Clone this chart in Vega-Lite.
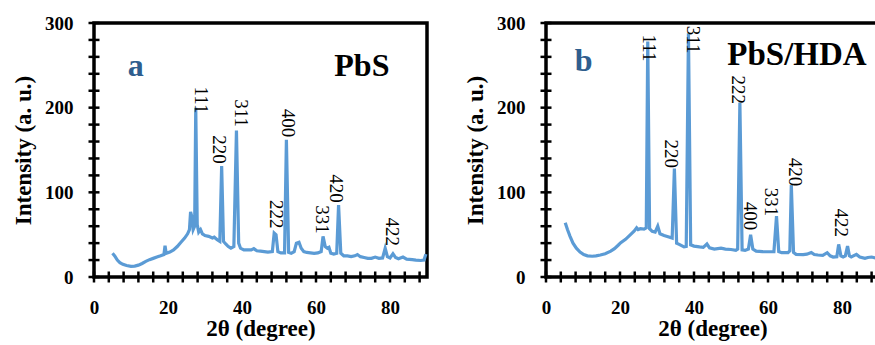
{
  "$schema": "https://vega.github.io/schema/vega-lite/v6.json",
  "padding": {"left": 10, "top": 12, "right": 0, "bottom": 0},
  "background": "white",
  "spacing": 27,
  "config": {
    "view": {"stroke": "#000000", "strokeWidth": 3.5},
    "axis": {
      "grid": false,
      "domain": false,
      "ticks": false,
      "labelFont": "Liberation Serif",
      "labelFontWeight": "bold",
      "labelFontSize": 19,
      "labelColor": "#000000",
      "labelOverlap": false,
      "labelBound": false,
      "labelFlush": false,
      "titleFont": "Liberation Serif",
      "titleFontWeight": "bold",
      "titleColor": "#000000"
    },
    "axisX": {"labelPadding": 21, "titleFontSize": 23, "titlePadding": 0},
    "axisY": {"labelPadding": 21, "titleFontSize": 23, "titlePadding": 9}
  },
  "datasets": {
    "xrd_a": [
      {"x": 5.0, "y": 28}, {"x": 5.6, "y": 25}, {"x": 6.3, "y": 20}, {"x": 7.0, "y": 17}, {"x": 7.8, "y": 15},
      {"x": 8.8, "y": 13.5}, {"x": 10, "y": 12.5}, {"x": 11, "y": 12.8}, {"x": 12, "y": 14}, {"x": 13, "y": 16},
      {"x": 14, "y": 18.5}, {"x": 15, "y": 20.5}, {"x": 16, "y": 22}, {"x": 17, "y": 23.5}, {"x": 18, "y": 25},
      {"x": 18.9, "y": 26.5}, {"x": 19.2, "y": 37}, {"x": 19.5, "y": 28}, {"x": 20.5, "y": 29.5}, {"x": 21.5, "y": 32},
      {"x": 22.5, "y": 36}, {"x": 23.5, "y": 41}, {"x": 24.5, "y": 46}, {"x": 25.3, "y": 51}, {"x": 25.8, "y": 56},
      {"x": 26.1, "y": 77}, {"x": 26.4, "y": 72}, {"x": 26.8, "y": 56}, {"x": 27.2, "y": 60}, {"x": 27.5, "y": 200},
      {"x": 27.9, "y": 62}, {"x": 28.3, "y": 53}, {"x": 28.8, "y": 56}, {"x": 29.3, "y": 51}, {"x": 30, "y": 49},
      {"x": 31, "y": 48}, {"x": 32, "y": 46}, {"x": 32.5, "y": 47}, {"x": 33.3, "y": 44}, {"x": 34.0, "y": 42},
      {"x": 34.5, "y": 131}, {"x": 35.0, "y": 42}, {"x": 35.6, "y": 39}, {"x": 36.3, "y": 36}, {"x": 37, "y": 34},
      {"x": 37.8, "y": 36}, {"x": 38.5, "y": 173}, {"x": 39.1, "y": 40}, {"x": 39.6, "y": 34}, {"x": 40.5, "y": 32},
      {"x": 41.5, "y": 32}, {"x": 42.5, "y": 32}, {"x": 43.2, "y": 33.5}, {"x": 44, "y": 31}, {"x": 45, "y": 30.5},
      {"x": 46, "y": 30}, {"x": 47, "y": 29.5}, {"x": 48.2, "y": 30}, {"x": 48.7, "y": 52}, {"x": 49.2, "y": 50},
      {"x": 49.7, "y": 30}, {"x": 50.5, "y": 28.5}, {"x": 51.5, "y": 28.5}, {"x": 52.0, "y": 162}, {"x": 52.6, "y": 29},
      {"x": 53.3, "y": 28}, {"x": 54.1, "y": 30}, {"x": 54.7, "y": 40}, {"x": 55.4, "y": 41}, {"x": 56.0, "y": 34},
      {"x": 56.7, "y": 30}, {"x": 57.5, "y": 29}, {"x": 58.5, "y": 28.5}, {"x": 59.5, "y": 28}, {"x": 60.5, "y": 28.5},
      {"x": 61.4, "y": 30}, {"x": 61.9, "y": 48}, {"x": 62.5, "y": 36}, {"x": 63.1, "y": 34}, {"x": 63.5, "y": 35},
      {"x": 64.0, "y": 28}, {"x": 64.8, "y": 27}, {"x": 65.6, "y": 28}, {"x": 66.1, "y": 85}, {"x": 66.7, "y": 28},
      {"x": 67.5, "y": 25}, {"x": 68.5, "y": 25}, {"x": 69.5, "y": 24}, {"x": 70.5, "y": 25}, {"x": 71.2, "y": 26.5},
      {"x": 72, "y": 24}, {"x": 73, "y": 23}, {"x": 74, "y": 22}, {"x": 75, "y": 22}, {"x": 76, "y": 23.5},
      {"x": 77, "y": 22}, {"x": 78, "y": 22.5}, {"x": 78.7, "y": 34}, {"x": 79.3, "y": 24}, {"x": 80, "y": 22.5},
      {"x": 80.8, "y": 27.5}, {"x": 81.5, "y": 23}, {"x": 82.3, "y": 21.5}, {"x": 83.5, "y": 23.5}, {"x": 84.5, "y": 21},
      {"x": 86, "y": 20.5}, {"x": 87, "y": 20}, {"x": 88.3, "y": 19.5}, {"x": 89.2, "y": 20}, {"x": 89.7, "y": 27}
    ],
    "xrd_b": [
      {"x": 5.2, "y": 64}, {"x": 5.8, "y": 56}, {"x": 6.5, "y": 48}, {"x": 7.3, "y": 40}, {"x": 8.2, "y": 34},
      {"x": 9.2, "y": 29.5}, {"x": 10.2, "y": 26.5}, {"x": 11.2, "y": 25}, {"x": 12.5, "y": 24.5}, {"x": 13.5, "y": 25},
      {"x": 14.7, "y": 26}, {"x": 16, "y": 27.5}, {"x": 17.5, "y": 30.5}, {"x": 18.5, "y": 33.5}, {"x": 19.5, "y": 37.5},
      {"x": 20.2, "y": 40.5}, {"x": 21.5, "y": 44.5}, {"x": 22.9, "y": 50.3}, {"x": 23.8, "y": 54}, {"x": 24.5, "y": 58},
      {"x": 24.9, "y": 56}, {"x": 25.5, "y": 57}, {"x": 26.5, "y": 56.5}, {"x": 27.1, "y": 58}, {"x": 27.5, "y": 278},
      {"x": 28, "y": 57}, {"x": 28.7, "y": 54}, {"x": 29.5, "y": 53}, {"x": 30.2, "y": 60}, {"x": 30.8, "y": 51},
      {"x": 31.9, "y": 49}, {"x": 33, "y": 47.5}, {"x": 34.1, "y": 46}, {"x": 34.7, "y": 128}, {"x": 35.3, "y": 40},
      {"x": 36, "y": 38.5}, {"x": 37.3, "y": 35.5}, {"x": 37.9, "y": 36}, {"x": 38.5, "y": 288}, {"x": 39.1, "y": 38},
      {"x": 40, "y": 36.5}, {"x": 41.5, "y": 35.5}, {"x": 42.5, "y": 35}, {"x": 43.5, "y": 39}, {"x": 44.2, "y": 34.5},
      {"x": 45.5, "y": 33}, {"x": 47.3, "y": 34}, {"x": 48.5, "y": 33}, {"x": 50, "y": 32.5}, {"x": 51.3, "y": 31.5},
      {"x": 51.8, "y": 33}, {"x": 52.4, "y": 206}, {"x": 53, "y": 32}, {"x": 53.8, "y": 31.4}, {"x": 54.7, "y": 33},
      {"x": 55.3, "y": 50}, {"x": 55.9, "y": 33}, {"x": 56.8, "y": 30.5}, {"x": 58.5, "y": 30}, {"x": 59.9, "y": 29.8},
      {"x": 61.6, "y": 30}, {"x": 62.3, "y": 72}, {"x": 62.9, "y": 30}, {"x": 63.7, "y": 28.7}, {"x": 65.4, "y": 28.7},
      {"x": 65.9, "y": 31}, {"x": 66.3, "y": 109}, {"x": 66.9, "y": 29}, {"x": 67.6, "y": 26.7}, {"x": 69.5, "y": 26.5},
      {"x": 70.5, "y": 27}, {"x": 71.7, "y": 29}, {"x": 72.5, "y": 26.5}, {"x": 73.5, "y": 26}, {"x": 74.8, "y": 25.5},
      {"x": 76, "y": 28.7}, {"x": 76.8, "y": 25}, {"x": 77.6, "y": 23.6}, {"x": 78.6, "y": 24}, {"x": 79.1, "y": 38.5},
      {"x": 79.7, "y": 25}, {"x": 80.3, "y": 23.6}, {"x": 80.9, "y": 25}, {"x": 81.5, "y": 36.5}, {"x": 82.0, "y": 25},
      {"x": 82.5, "y": 23.6}, {"x": 83.9, "y": 26.7}, {"x": 84.8, "y": 23.5}, {"x": 86.2, "y": 22}, {"x": 87, "y": 23},
      {"x": 88, "y": 23.6}, {"x": 89, "y": 22.5}, {"x": 90, "y": 22}
    ],
    "xticks": [
      {"x": 0, "y": 0}, {"x": 4, "y": 0}, {"x": 8, "y": 0}, {"x": 12, "y": 0}, {"x": 16, "y": 0}, {"x": 20, "y": 0},
      {"x": 24, "y": 0}, {"x": 28, "y": 0}, {"x": 32, "y": 0}, {"x": 36, "y": 0}, {"x": 40, "y": 0}, {"x": 44, "y": 0},
      {"x": 48, "y": 0}, {"x": 52, "y": 0}, {"x": 56, "y": 0}, {"x": 60, "y": 0}, {"x": 64, "y": 0}, {"x": 68, "y": 0},
      {"x": 72, "y": 0}, {"x": 76, "y": 0}, {"x": 80, "y": 0}, {"x": 84, "y": 0}, {"x": 88, "y": 0}
    ],
    "yticks": [
      {"x": 0, "y": 0}, {"x": 0, "y": 20}, {"x": 0, "y": 40}, {"x": 0, "y": 60}, {"x": 0, "y": 80}, {"x": 0, "y": 100},
      {"x": 0, "y": 120}, {"x": 0, "y": 140}, {"x": 0, "y": 160}, {"x": 0, "y": 180}, {"x": 0, "y": 200}, {"x": 0, "y": 220},
      {"x": 0, "y": 240}, {"x": 0, "y": 260}, {"x": 0, "y": 280}, {"x": 0, "y": 300}
    ],
    "peaks_a": [
      {"x": 28.9, "y": 209, "t": "111"}, {"x": 33.9, "y": 150.5, "t": "220"}, {"x": 39.7, "y": 193.5, "t": "311"},
      {"x": 49.2, "y": 74, "t": "222"}, {"x": 52.4, "y": 182, "t": "400"}, {"x": 61.6, "y": 68, "t": "331"},
      {"x": 65.5, "y": 104.4, "t": "420"}, {"x": 80.5, "y": 53.4, "t": "422"}
    ],
    "peaks_b": [
      {"x": 27.9, "y": 270.5, "t": "111"}, {"x": 33.7, "y": 145.7, "t": "220"}, {"x": 39.6, "y": 280.3, "t": "311"},
      {"x": 51.8, "y": 221.3, "t": "222"}, {"x": 55.1, "y": 72, "t": "400"}, {"x": 60.8, "y": 88.6, "t": "331"},
      {"x": 67.4, "y": 124, "t": "420"}, {"x": 79.8, "y": 64, "t": "422"}
    ],
    "tag_a": [{"x": 11.3, "y": 237.5, "t": "a"}],
    "name_a": [{"x": 72.4, "y": 237.5, "t": "PbS"}],
    "tag_b": [{"x": 10.2, "y": 243, "t": "b"}],
    "name_b": [{"x": 49, "y": 250.4, "t": "PbS/HDA"}]
  },
  "hconcat": [
    {
      "width": 333,
      "height": 254,
      "encoding": {
        "x": {"field": "x", "type": "quantitative", "scale": {"domain": [0, 90], "nice": false},
          "axis": {"title": "2θ (degree)", "values": [0, 20, 40, 60, 80]}},
        "y": {"field": "y", "type": "quantitative", "scale": {"domain": [0, 300], "nice": false},
          "axis": {"title": "Intensity (a. u.)", "values": [0, 100, 200, 300]}}
      },
      "layer": [
        {
          "data": {"values": [{}]},
          "mark": {"type": "rect", "fill": null, "stroke": "#000000", "strokeWidth": 3.5},
          "encoding": {
            "x": {"datum": 0, "type": "quantitative"}, "x2": {"datum": 90},
            "y": {"datum": 0, "type": "quantitative"}, "y2": {"datum": 300}
          }
        },
        {
          "data": {"name": "xticks"},
          "mark": {"type": "tick", "orient": "vertical", "color": "#000000", "size": 11, "thickness": 2.5, "opacity": 1}
        },
        {
          "data": {"name": "yticks"},
          "mark": {"type": "tick", "orient": "horizontal", "color": "#000000", "size": 11, "thickness": 2.5, "opacity": 1}
        },
        {
          "data": {"name": "xrd_a"},
          "mark": {"type": "line", "color": "#5B9BD5", "strokeWidth": 3.2}
        },
        {
          "data": {"name": "peaks_a"},
          "mark": {"type": "text", "angle": 90, "align": "center", "baseline": "middle", "font": "Liberation Serif", "fontSize": 19, "color": "black"},
          "encoding": {"text": {"field": "t"}}
        },
        {
          "data": {"name": "tag_a"},
          "mark": {"type": "text", "align": "center", "baseline": "alphabetic", "font": "Liberation Serif", "fontWeight": "bold", "fontSize": 32, "color": "#2F5E8E"},
          "encoding": {"text": {"field": "t"}}
        },
        {
          "data": {"name": "name_a"},
          "mark": {"type": "text", "align": "center", "baseline": "alphabetic", "font": "Liberation Serif", "fontWeight": "bold", "fontSize": 32, "color": "black"},
          "encoding": {"text": {"field": "t"}}
        }
      ]
    },
    {
      "width": 333,
      "height": 254,
      "encoding": {
        "x": {"field": "x", "type": "quantitative", "scale": {"domain": [0, 90], "nice": false},
          "axis": {"title": "2θ (degree)", "values": [0, 20, 40, 60, 80]}},
        "y": {"field": "y", "type": "quantitative", "scale": {"domain": [0, 300], "nice": false},
          "axis": {"title": "Intensity (a. u.)", "values": [0, 100, 200, 300]}}
      },
      "layer": [
        {
          "data": {"values": [{}]},
          "mark": {"type": "rect", "fill": null, "stroke": "#000000", "strokeWidth": 3.5},
          "encoding": {
            "x": {"datum": 0, "type": "quantitative"}, "x2": {"datum": 90},
            "y": {"datum": 0, "type": "quantitative"}, "y2": {"datum": 300}
          }
        },
        {
          "data": {"name": "xticks"},
          "mark": {"type": "tick", "orient": "vertical", "color": "#000000", "size": 11, "thickness": 2.5, "opacity": 1}
        },
        {
          "data": {"name": "yticks"},
          "mark": {"type": "tick", "orient": "horizontal", "color": "#000000", "size": 11, "thickness": 2.5, "opacity": 1}
        },
        {
          "data": {"name": "xrd_b"},
          "mark": {"type": "line", "color": "#5B9BD5", "strokeWidth": 3.2}
        },
        {
          "data": {"name": "peaks_b"},
          "mark": {"type": "text", "angle": 90, "align": "center", "baseline": "middle", "font": "Liberation Serif", "fontSize": 19, "color": "black"},
          "encoding": {"text": {"field": "t"}}
        },
        {
          "data": {"name": "tag_b"},
          "mark": {"type": "text", "align": "center", "baseline": "alphabetic", "font": "Liberation Serif", "fontWeight": "bold", "fontSize": 32, "color": "#2F5E8E"},
          "encoding": {"text": {"field": "t"}}
        },
        {
          "data": {"name": "name_b"},
          "mark": {"type": "text", "align": "left", "baseline": "alphabetic", "font": "Liberation Serif", "fontWeight": "bold", "fontSize": 33, "color": "black"},
          "encoding": {"text": {"field": "t"}}
        }
      ]
    }
  ]
}
